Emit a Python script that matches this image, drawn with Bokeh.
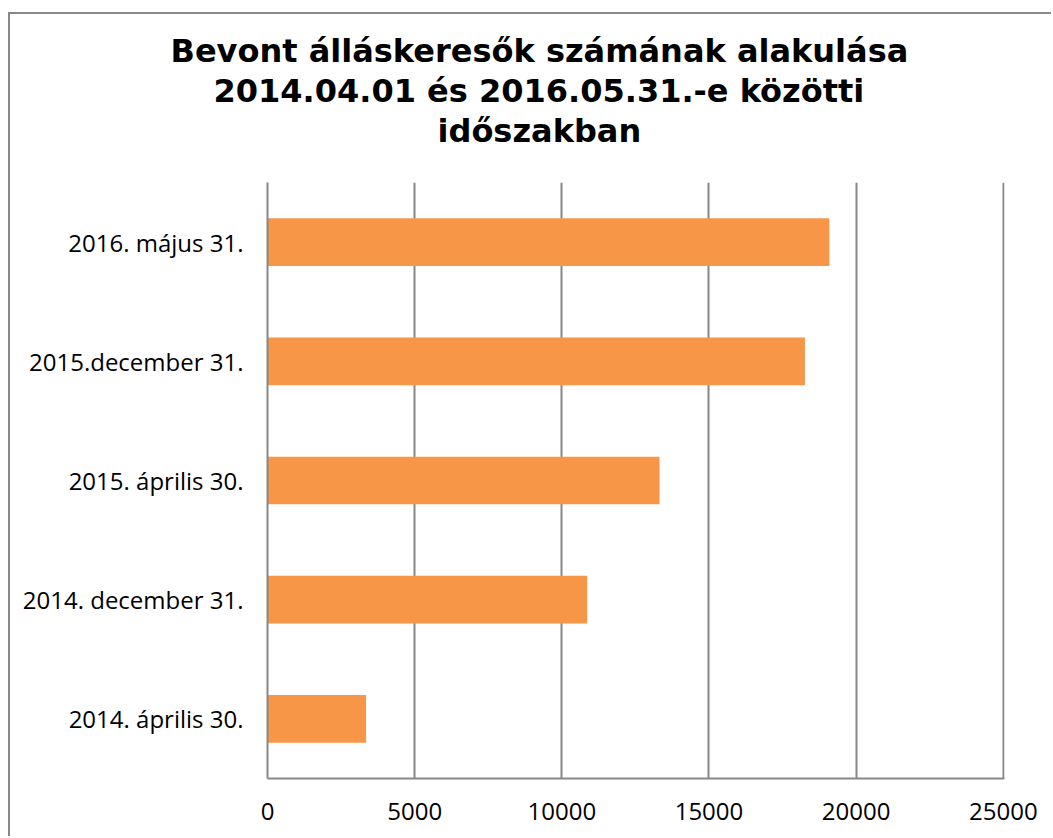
from bokeh.plotting import figure
from bokeh.models import Range1d, FactorRange, FixedTicker, Title, BasicTickFormatter
from bokeh.embed import file_html
from bokeh.resources import INLINE

# ---- data ----
categories = ["2014. április 30.", "2014. december 31.", "2015. április 30.",
              "2015.december 31.", "2016. május 31."]
values = [3350, 10860, 13320, 18260, 19090]
x_ticks = [0, 5000, 10000, 15000, 20000, 25000]
title_lines = ["Bevont álláskeresők számának alakulása",
               "2014.04.01 és 2016.05.31.-e közötti",
               "időszakban"]

GRAY = "#878787"
ORANGE = "#F79646"

p = figure(width=1043, height=824, output_backend="svg", toolbar_location=None,
           x_range=Range1d(0, 25040), y_range=FactorRange(factors=categories),
           min_border_left=257, min_border_right=49, min_border_top=168,
           min_border_bottom=60)
p.styles = {"border-left": "2px solid #888888", "border-top": "2px solid #888888",
            "margin-top": "12px", "margin-left": "8px"}

p.hbar(y=categories, right=values, left=0, height=0.4, fill_color=ORANGE,
       line_color=None)

p.outline_line_color = None
p.background_fill_color = "white"
p.border_fill_color = "white"

p.xgrid.grid_line_color = GRAY
p.xgrid.grid_line_width = 2
p.xgrid.ticker = FixedTicker(ticks=x_ticks)
p.ygrid.grid_line_color = None

p.xaxis.ticker = FixedTicker(ticks=x_ticks)
p.xaxis.formatter = BasicTickFormatter(use_scientific=False)
for ax in (p.xaxis[0], p.yaxis[0]):
    ax.axis_line_color = GRAY
    ax.axis_line_width = 2
    ax.major_tick_line_color = None
    ax.minor_tick_line_color = None
    ax.major_tick_out = 0
    ax.major_tick_in = 0
    ax.major_label_text_font = "Open Sans"
    ax.major_label_text_font_size = "24px"
    ax.major_label_text_color = "black"
p.xaxis.major_label_standoff = 24
p.yaxis.major_label_standoff = 24

# spacer between the title block and the plot frame
p.add_layout(Title(text=" ", text_font_size="12px", standoff=17), "above")

# approximate left offsets (px from plot frame left) so that lines centre at ~x=539
offsets = [-97, -54, 170]
for txt, off in reversed(list(zip(title_lines, offsets))):
    p.add_layout(Title(text=txt, align="left", offset=off, standoff=0,
                       text_line_height=0.82,
                       text_font="DejaVu Sans", text_font_style="bold",
                       text_font_size="32px", text_color="black"), "above")

open("out.html", "w").write(file_html(p, INLINE))
